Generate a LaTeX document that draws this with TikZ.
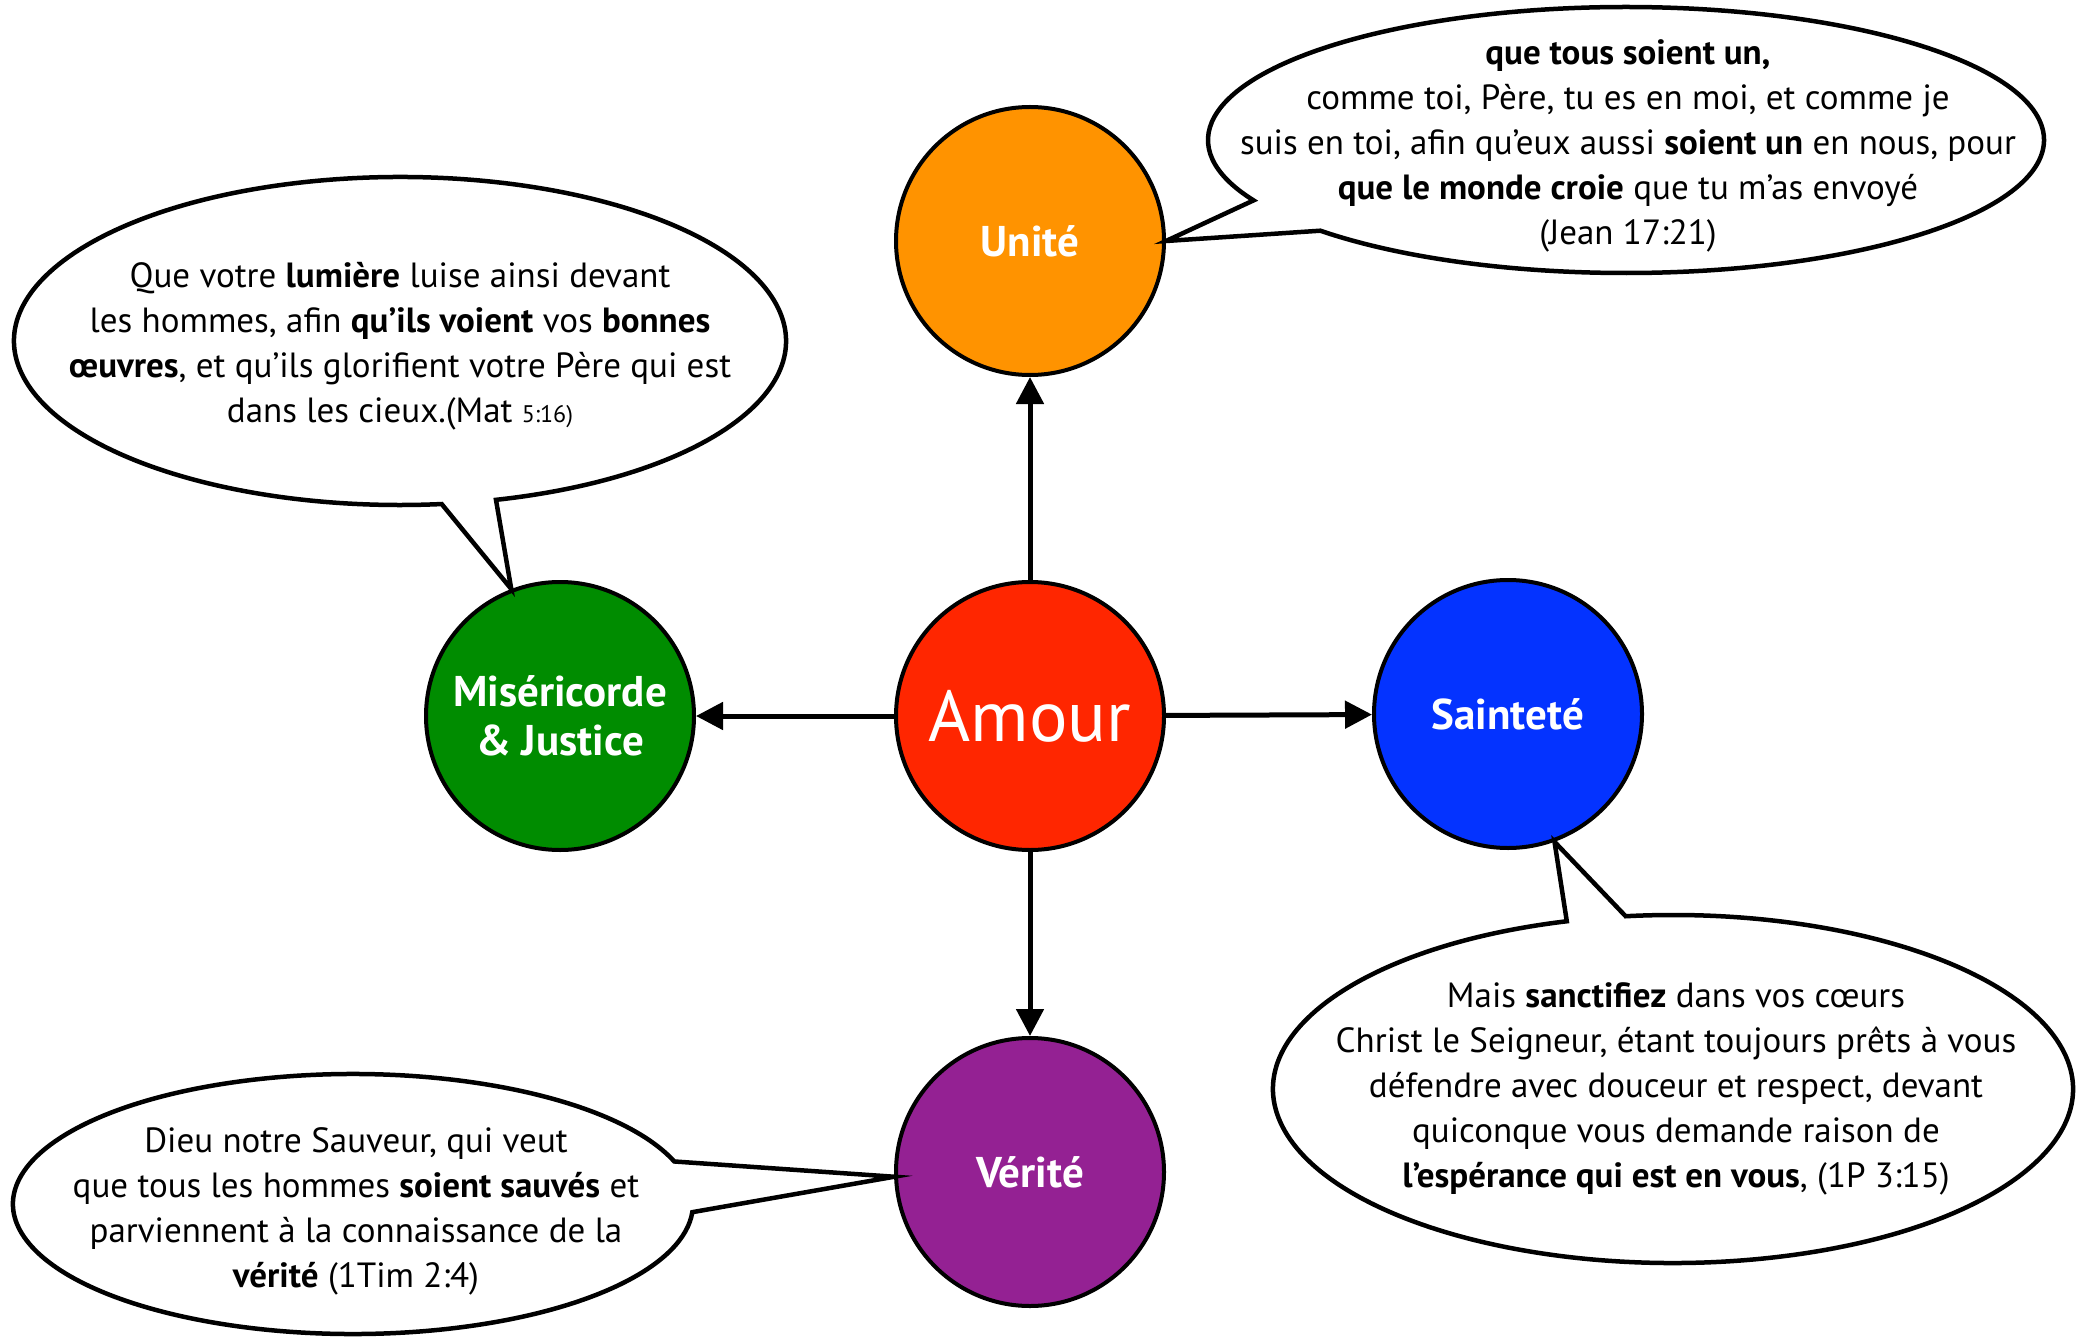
\documentclass[tikz,border=0pt]{standalone}
\usepackage{fontspec}
\setmainfont{PT Sans}
\usetikzlibrary{arrows.meta}
\definecolor{cOrange}{HTML}{FF9300}
\definecolor{cRed}{HTML}{FF2600}
\definecolor{cGreen}{HTML}{008C00}
\definecolor{cBlue}{HTML}{0433FF}
\definecolor{cPurple}{HTML}{942193}
\begin{document}
\begin{tikzpicture}[x=1pt,y=-1pt,
  circ/.style={circle, draw=black, line width=4pt, minimum size=268pt, inner sep=0pt,
    text=white, font=\fontsize{43}{49}\selectfont\bfseries, align=center},
  arr/.style={line width=5pt, -{Triangle[length=27pt,width=27pt]}},
  bubble/.style={draw=black, line width=4.5pt, fill=white, line join=miter},
  btext/.style={font=\fontsize{35}{45}\selectfont, align=center, inner sep=0pt}]
\useasboundingbox (0,0) rectangle (2085,1337);

% circles
\node[circ, fill=cRed, font=\fontsize{72}{80}\selectfont] (amour) at (1030,716) {Amour};
\node[circ, fill=cOrange] (unite) at (1030,241) {Unité};
\node[circ, fill=cGreen] (mis) at (560,716) {Miséricorde\\\& Justice};
\node[circ, fill=cBlue] (sain) at (1508,714) {Sainteté};
\node[circ, fill=cPurple] (ver) at (1030,1172) {Vérité};

% arrows
\draw[arr] (amour) -- (unite);
\draw[arr] (amour) -- (mis);
\draw[arr] (amour) -- (sain);
\draw[arr] (amour) -- (ver);

% speech bubbles
\draw[bubble] ([shift={(223:418pt and 133pt)}]1626,140)
  arc[start angle=223, end angle=567, x radius=418pt, y radius=133pt]
  -- (unite.east) -- cycle;
\draw[bubble] ([shift={(284.4:386pt and 164pt)}]400,341)
  arc[start angle=284.4, end angle=636.2, x radius=386pt, y radius=164pt]
  -- (mis.111) -- cycle;
\draw[bubble] ([shift={(105.4:400pt and 174pt)}]1673,1089)
  arc[start angle=105.4, end angle=456.8, x radius=400pt, y radius=174pt]
  -- (sain.-70) -- cycle;
\draw[bubble] ([shift={(19.1:340pt and 130pt)}]353,1204)
  arc[start angle=19.1, end angle=356.4, x radius=340pt, y radius=130pt]
  -- (ver.182) -- cycle;

% bubble texts
\node[btext] (t1) at (1628,146) {\textbf{que tous soient un,}\\
comme toi, Père, tu es en moi, et comme je\\
suis en toi, afin qu’eux aussi \textbf{soient un} en nous, pour\\
\textbf{que le monde croie} que tu m’as envoyé\\
(Jean 17:21)};
\node[btext] (t2) at (400,346) {Que votre \textbf{lumière} luise ainsi devant\\
les hommes, afin \textbf{qu’ils voient} vos \textbf{bonnes}\\
\textbf{œuvres}, et qu’ils glorifient votre Père qui est\\
dans les cieux.(Mat {\fontsize{24}{45}\selectfont 5:16)}};
\node[btext] (t3) at (1676,1089) {Mais \textbf{sanctifiez} dans vos cœurs\\
Christ le Seigneur, étant toujours prêts à vous\\
défendre avec douceur et respect, devant\\
quiconque vous demande raison de\\
\textbf{l’espérance qui est en vous}, (1P 3:15)};
\node[btext] (t4) at (356,1211) {Dieu notre Sauveur, qui veut\\
que tous les hommes \textbf{soient sauvés} et\\
parviennent à la connaissance de la\\
\textbf{vérité} (1Tim 2:4)};
\end{tikzpicture}
\end{document}
